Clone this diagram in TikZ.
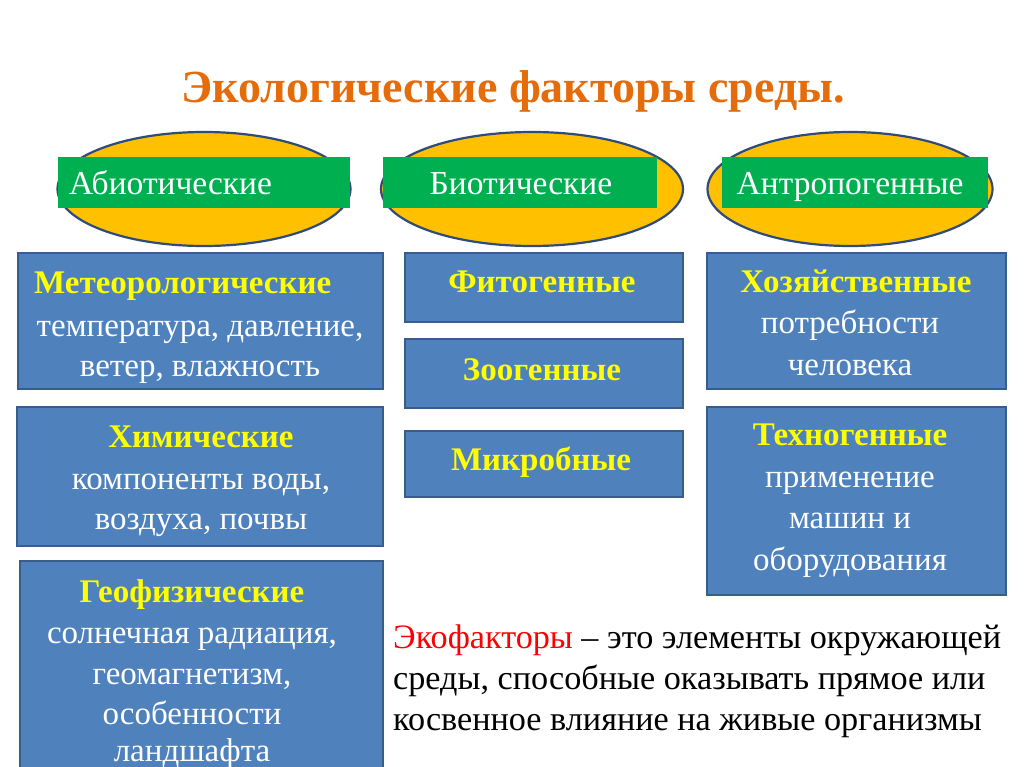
\documentclass[tikz,border=0pt]{standalone}
\usepackage{fontspec}
\setmainfont{Liberation Serif}
\usetikzlibrary{shapes.geometric}
\definecolor{titleor}{HTML}{E46C0A}
\definecolor{ovalfill}{HTML}{FFC000}
\definecolor{ovalline}{HTML}{2F4B7C}
\definecolor{taggreen}{HTML}{00B050}
\definecolor{boxblue}{HTML}{4F81BD}
\definecolor{boxline}{HTML}{385D8A}
\definecolor{headyel}{HTML}{FFFF00}
\tikzset{
  oval/.style={ellipse, fill=ovalfill, draw=ovalline, line width=2.2pt, inner sep=0pt},
  tagbox/.style={rectangle, fill=taggreen, inner sep=0pt},
  bluebox/.style={rectangle, fill=boxblue, draw=boxline, line width=2pt},
  tagtext/.style={anchor=base, text=white, font=\fontsize{33.5}{38}\selectfont, inner sep=0pt},
  headtext/.style={anchor=base, text=headyel, font=\fontsize{33}{38}\selectfont\bfseries, inner sep=0pt},
  bodytext/.style={anchor=base, text=white, font=\fontsize{33}{38}\selectfont, inner sep=0pt},
  notetext/.style={anchor=base west, text=black, font=\fontsize{34.2}{38}\selectfont, inner sep=0pt},
}
\begin{document}
\begin{tikzpicture}[x=1pt,y=-1pt]
\clip (0,0) rectangle (1024,767);
\fill[white] (0,0) rectangle (1024,767);

% title
\node[anchor=base, text=titleor, font=\fontsize{46}{50}\selectfont\bfseries, inner sep=0pt] (title) at (513,103) {Экологические факторы среды.};

% ovals
\node[oval, minimum width=293pt, minimum height=114pt] (o1) at (204,189) {};
\node[oval, minimum width=302pt, minimum height=114pt] (o2) at (532,189) {};
\node[oval, minimum width=285pt, minimum height=114pt] (o3) at (850,189) {};

% green tags
\node[tagbox, minimum width=292pt, minimum height=51pt] (t1) at (204,182.5) {};
\node[tagbox, minimum width=274pt, minimum height=51pt] (t2) at (520,182.5) {};
\node[tagbox, minimum width=266pt, minimum height=51pt] (t3) at (855,182.5) {};
\node[tagtext, anchor=base west] (t1txt) at (69,195) {Абиотические};
\node[tagtext] (t2txt) at (521,195) {Биотические};
\node[tagtext] (t3txt) at (850,195) {Антропогенные};

% left column boxes
\node[bluebox, minimum width=365pt, minimum height=136pt] (b1) at (200.5,321) {};
\node[bluebox, minimum width=366pt, minimum height=139pt] (b2) at (200,476.5) {};
\node[bluebox, minimum width=363pt, minimum height=240pt] (b3) at (201.5,681) {};

% middle column boxes
\node[bluebox, minimum width=278pt, minimum height=69pt] (m1) at (544,287.5) {};
\node[bluebox, minimum width=278pt, minimum height=69pt] (m2) at (544,373.5) {};
\node[bluebox, minimum width=278pt, minimum height=66pt] (m3) at (544,464) {};

% right column boxes
\node[bluebox, minimum width=299pt, minimum height=136pt] (r1) at (856.5,321) {};
\node[bluebox, minimum width=299pt, minimum height=188pt] (r2) at (856.5,501) {};

% left column text
\node[headtext, anchor=base west] (b1h) at (34,293) {Метеорологические};
\node[bodytext] (b1l1) at (200,336) {температура, давление,};
\node[bodytext] (b1l2) at (200,376) {ветер, влажность};

\node[headtext] (b2h) at (201,447) {Химические};
\node[bodytext] (b2l1) at (201,489) {компоненты воды,};
\node[bodytext] (b2l2) at (201,529) {воздуха, почвы};

\node[headtext] (b3h) at (192,602) {Геофизические};
\node[bodytext] (b3l1) at (192,643) {солнечная радиация,};
\node[bodytext] (b3l2) at (192,684) {геомагнетизм,};
\node[bodytext] (b3l3) at (192,724) {особенности};
\node[bodytext] (b3l4) at (192,761) {ландшафта};

% middle text
\node[headtext] (m1h) at (542,292) {Фитогенные};
\node[headtext] (m2h) at (542,380) {Зоогенные};
\node[headtext] (m3h) at (541,470) {Микробные};

% right text
\node[headtext] (r1h) at (856,292) {Хозяйственные};
\node[bodytext] (r1l1) at (850,333) {потребности};
\node[bodytext] (r1l2) at (850,375) {человека};

\node[headtext] (r2h) at (850,445) {Техногенные};
\node[bodytext] (r2l1) at (850,487) {применение};
\node[bodytext] (r2l2) at (850,528) {машин и};
\node[bodytext] (r2l3) at (850,570) {оборудования};

% note
\node[notetext] (n1) at (393,648) {\textcolor{red}{Экофакторы} – это элементы окружающей};
\node[notetext] (n2) at (393,689) {среды, способные оказывать прямое или};
\node[notetext] (n3) at (393,730) {косвенное влияние на живые организмы};
\end{tikzpicture}
\end{document}
